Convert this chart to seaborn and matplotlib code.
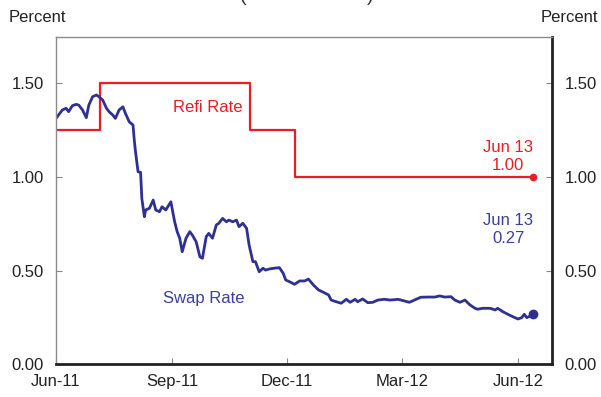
import pandas as pd
import matplotlib.pyplot as plt
import seaborn as sns

# Refi rate steps (value holds until the next date)
refi_dates = ["2011-06-01", "2011-07-06", "2011-11-02", "2011-12-07", "2012-06-13"]
refi_vals = [1.25, 1.50, 1.25, 1.00, 1.00]

# Swap rate
swap_dates = [
    "2011-06-01", "2011-06-03", "2011-06-06", "2011-06-09", "2011-06-11", "2011-06-14",
    "2011-06-17", "2011-06-19", "2011-06-22", "2011-06-25", "2011-06-27", "2011-06-30",
    "2011-07-03", "2011-07-05", "2011-07-08", "2011-07-11", "2011-07-13", "2011-07-16",
    "2011-07-18", "2011-07-21", "2011-07-24", "2011-07-26", "2011-07-29", "2011-08-01",
    "2011-08-02", "2011-08-03", "2011-08-05", "2011-08-07", "2011-08-08", "2011-08-10",
    "2011-08-11", "2011-08-14", "2011-08-17", "2011-08-19", "2011-08-22", "2011-08-24",
    "2011-08-27", "2011-08-31", "2011-09-03", "2011-09-05", "2011-09-07", "2011-09-09",
    "2011-09-12", "2011-09-15", "2011-09-17", "2011-09-20", "2011-09-23", "2011-09-25",
    "2011-09-28", "2011-09-30", "2011-10-03", "2011-10-06", "2011-10-08", "2011-10-11",
    "2011-10-14", "2011-10-16", "2011-10-19", "2011-10-22", "2011-10-24", "2011-10-27",
    "2011-10-30", "2011-11-01", "2011-11-04", "2011-11-06", "2011-11-09", "2011-11-12",
    "2011-11-14", "2011-11-17", "2011-11-21", "2011-11-25", "2011-11-28", "2011-11-30",
    "2011-12-03", "2011-12-07", "2011-12-11", "2011-12-15", "2011-12-18", "2011-12-22",
    "2011-12-26", "2011-12-30", "2012-01-03", "2012-01-05", "2012-01-09", "2012-01-13",
    "2012-01-17", "2012-01-20", "2012-01-24", "2012-01-26", "2012-01-30", "2012-02-03",
    "2012-02-07", "2012-02-11", "2012-02-16", "2012-02-21", "2012-02-27", "2012-03-02",
    "2012-03-07", "2012-03-11", "2012-03-16", "2012-03-21", "2012-03-27", "2012-03-31",
    "2012-04-04", "2012-04-09", "2012-04-12", "2012-04-16", "2012-04-20", "2012-04-24",
    "2012-04-28", "2012-04-30", "2012-05-04", "2012-05-10", "2012-05-14", "2012-05-16",
    "2012-05-20", "2012-05-24", "2012-05-28", "2012-06-01", "2012-06-04", "2012-06-06",
    "2012-06-08", "2012-06-11", "2012-06-13",
]
swap_vals = [
    1.313, 1.331, 1.358, 1.367, 1.349, 1.381,
    1.388, 1.384, 1.358, 1.317, 1.384, 1.429,
    1.438, 1.429, 1.411, 1.367, 1.349, 1.331,
    1.313, 1.358, 1.375, 1.340, 1.295, 1.278,
    1.198, 1.135, 1.028, 1.025, 0.886, 0.788,
    0.824, 0.833, 0.877, 0.824, 0.815, 0.841,
    0.824, 0.868, 0.761, 0.708, 0.673, 0.601,
    0.673, 0.708, 0.690, 0.655, 0.574, 0.566,
    0.681, 0.699, 0.673, 0.744, 0.753, 0.779,
    0.761, 0.770, 0.761, 0.770, 0.735, 0.753,
    0.726, 0.637, 0.548, 0.548, 0.494, 0.513,
    0.503, 0.509, 0.513, 0.516, 0.486, 0.450,
    0.441, 0.427, 0.445, 0.445, 0.455, 0.423,
    0.397, 0.384, 0.370, 0.343, 0.334, 0.326,
    0.347, 0.331, 0.347, 0.334, 0.349, 0.329,
    0.331, 0.343, 0.347, 0.343, 0.347, 0.340,
    0.331, 0.343, 0.358, 0.359, 0.359, 0.365,
    0.359, 0.361, 0.343, 0.331, 0.343, 0.317,
    0.299, 0.294, 0.299, 0.299, 0.290, 0.299,
    0.281, 0.267, 0.254, 0.242, 0.249, 0.267,
    0.249, 0.259, 0.270,
]

tick_dates = ["2011-06-01", "2011-09-01", "2011-12-01", "2012-03-01", "2012-06-01"]
tick_labels = ["Jun-11", "Sep-11", "Dec-11", "Mar-12", "Jun-12"]
y_ticks = [0.0, 0.5, 1.0, 1.5]

RED = "#ED1C24"
BLUE = "#2E3192"
BLUE_TXT = "#3B40A0"

refi = pd.DataFrame({"date": pd.to_datetime(refi_dates), "rate": refi_vals})
swap = pd.DataFrame({"date": pd.to_datetime(swap_dates), "rate": swap_vals})

sns.set_style("white")
plt.rcParams["font.family"] = ["Liberation Sans", "DejaVu Sans"]

fig = plt.figure(figsize=(6.01, 3.97), dpi=100)
ax = fig.add_axes([0.0932, 0.0824, 0.8253, 0.8236])

sns.lineplot(data=refi, x="date", y="rate", ax=ax, color=RED, linewidth=1.6,
             drawstyle="steps-post")
sns.lineplot(data=swap, x="date", y="rate", ax=ax, color=BLUE, linewidth=2.0)

# end-point markers
ax.plot(refi["date"].iloc[-1], refi["rate"].iloc[-1], "o", color=RED, ms=4.5)
ax.plot(swap["date"].iloc[-1], swap["rate"].iloc[-1], "o", color=BLUE, ms=6)

ax.set_xlim(pd.Timestamp("2011-06-01"), pd.Timestamp("2012-06-28"))
ax.set_ylim(0, 1.746)
ax.set_xticks(pd.to_datetime(tick_dates))
ax.set_xticklabels(tick_labels)
ax.set_yticks(y_ticks)
ax.set_yticklabels([f"{v:.2f}" for v in y_ticks])
ax.set_xlabel("")
ax.set_ylabel("")

ax.tick_params(axis="both", direction="in", length=4, width=0.8, color="#888888",
               labelsize=12, labelcolor="#222222")
ax.tick_params(axis="y", left=True, right=True, labelleft=True, labelright=True, pad=9)
ax.tick_params(axis="x", bottom=True, pad=7)

for side in ["top", "left"]:
    ax.spines[side].set_color("#8a8a8a")
    ax.spines[side].set_linewidth(1.0)
for side in ["bottom", "right"]:
    ax.spines[side].set_color("#222222")
    ax.spines[side].set_linewidth(2.0)

# annotations
ax.text(pd.Timestamp("2011-09-29"), 1.37, "Refi Rate", color=RED, fontsize=12,
        ha="center", va="center")
ax.text(pd.Timestamp("2011-09-26"), 0.35, "Swap Rate", color=BLUE_TXT, fontsize=12,
        ha="center", va="center")
ax.text(pd.Timestamp("2012-06-13"), 1.02, "Jun 13\n1.00", color=RED, fontsize=12,
        ha="right", va="bottom", multialignment="center", linespacing=1.3)
ax.text(pd.Timestamp("2012-06-13"), 0.63, "Jun 13\n0.27", color=BLUE_TXT, fontsize=12,
        ha="right", va="bottom", multialignment="center", linespacing=1.3)

fig.text(9 / 601, 1 - 18 / 397, "Percent", fontsize=12, color="#222222",
         ha="left", va="center")
fig.text(598 / 601, 1 - 18 / 397, "Percent", fontsize=12, color="#222222",
         ha="right", va="center")

# bottoms of the cut-off heading's brackets at the top edge
fig.text(243 / 601, 1 - 1 / 397, "(", fontsize=14, color="#333333",
         ha="center", va="baseline")
fig.text(370 / 601, 1 - 1 / 397, ")", fontsize=14, color="#333333",
         ha="center", va="baseline")

fig.savefig("out.png", dpi=100)
